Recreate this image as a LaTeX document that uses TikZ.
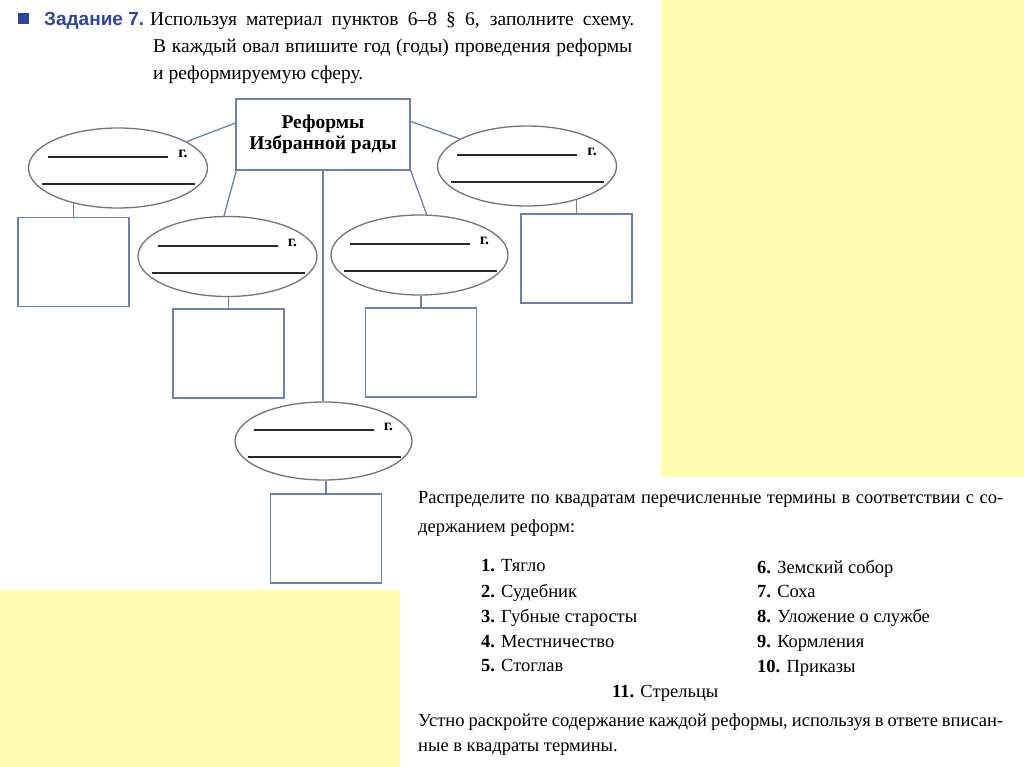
\documentclass[tikz,border=0pt]{standalone}
\usepackage{fontspec}
\setmainfont{Liberation Serif}
\newfontfamily\hsans{Liberation Sans}
\usetikzlibrary{shapes.geometric,calc}
\definecolor{padyellow}{RGB}{255,253,178}
\definecolor{boxline}{RGB}{105,130,175}
\definecolor{ovalline}{RGB}{115,115,125}
\definecolor{taskblue}{RGB}{45,70,160}
\definecolor{inkline}{RGB}{40,40,40}
\tikzset{
  oval/.style={ellipse, draw=ovalline, line width=1.3pt, minimum width=179pt, minimum height=80pt, inner sep=0pt},
  blankbox/.style={rectangle, draw=boxline, line width=1.3pt, minimum width=111pt, minimum height=89pt, inner sep=0pt},
  titlebox/.style={rectangle, draw=boxline, line width=1.3pt, minimum width=174pt, minimum height=71pt, inner sep=0pt, align=center, font=\bfseries\fontsize{19.5}{21}\selectfont},
  link/.style={draw=boxline, line width=1.3pt},
  fillline/.style={draw=inkline, line width=2pt},
  gmark/.style={inner sep=0pt, font=\bfseries\fontsize{16}{18}\selectfont},
  txt/.style={anchor=base west, inner sep=0pt, font=\fontsize{19.5}{22}\selectfont},
  btxt/.style={anchor=base west, inner sep=0pt, font=\fontsize{18.5}{21}\selectfont},
}
\newcommand\ovalblanks[1]{%
  \draw[fillline] ($(#1.center)+(-70,-11)$) -- ($(#1.center)+(50,-11)$);
  \draw[fillline] ($(#1.center)+(-76,16)$) -- ($(#1.center)+(77,16)$);
  \node[gmark] (#1g) at ($(#1.center)+(65,-14)$) {г.};
}
\begin{document}
\begin{tikzpicture}[x=1pt,y=-1pt]
\useasboundingbox (0,0) rectangle (1024,767);
\fill[white] (0,0) rectangle (1024,767);
\fill[padyellow] (661,0) rectangle (1024,477);
\fill[padyellow] (0,590) rectangle (400,767);

% header
\node[fill=taskblue, minimum size=11pt, inner sep=0pt] (bullet) at (23.5,18.5) {};
\node[anchor=base west, inner sep=0pt, font=\hsans\bfseries\fontsize{19}{21}\selectfont, text=taskblue] (task) at (44,26) {Задание 7.};
\node[txt] (h1) at (150,26) {\makebox[484pt][s]{Используя материал пунктов 6–8 § 6, заполните схему.}};
\node[txt] (h2) at (153,53) {\makebox[479pt][s]{В каждый овал впишите год (годы) проведения реформы}};
\node[txt] (h3) at (153,80) {и реформируемую сферу.};

% scheme
\node[titlebox] (top) at (323,134.5) {Реформы\\Избранной рады};
\node[oval] (e1) at (118,168) {};
\node[oval] (e2) at (227.5,256.5) {};
\node[oval, minimum width=177pt] (e3) at (419.5,255) {};
\node[oval] (e5) at (527,166) {};
\node[oval, minimum width=177pt, minimum height=78pt] (e4) at (323.5,441) {};

\node[blankbox] (b1) at (73.5,262) {};
\node[blankbox] (b2) at (228.5,353.5) {};
\node[blankbox] (b3) at (421,352.5) {};
\node[blankbox] (b4) at (576.5,258.5) {};
\node[blankbox] (b5) at (326,538.5) {};

\ovalblanks{e1}
\ovalblanks{e2}
\ovalblanks{e3}
\ovalblanks{e4}
\ovalblanks{e5}

\draw[link] ([yshift=11.5pt]top.west) -- (e1.21);
\draw[link] ([yshift=13pt]top.east) -- (e5.158);
\draw[link] ([xshift=1pt]top.south west) -- (e2.95);
\draw[link] (top.south east) -- (e3.80);
\draw[link] (top.south) -- (top.south |- e4.north);
\draw[link] (b1.north) -- (b1.north |- e1.218);
\draw[link] (b4.north) -- (b4.north |- e5.326);
\draw[link] (b2.north) -- (b2.north |- e2.south);
\draw[link] (b3.north) -- (b3.north |- e3.south);
\draw[link] (b5.north) -- (b5.north |- e4.south);

% lower text
\node[btxt] (p1) at (418,503) {\makebox[585pt][s]{Распределите по квадратам перечисленные термины в соответствии с со-}};
\node[btxt] (p2) at (418,532) {держанием реформ:};
\node[btxt] (t1) at (481,571) {\textbf{1.} Тягло};
\node[btxt] (t2) at (481,597) {\textbf{2.} Судебник};
\node[btxt] (t3) at (481,622) {\textbf{3.} Губные старосты};
\node[btxt] (t4) at (481,647) {\textbf{4.} Местничество};
\node[btxt] (t5) at (481,671) {\textbf{5.} Стоглав};
\node[btxt] (t6) at (757,573) {\textbf{6.} Земский собор};
\node[btxt] (t7) at (757,597) {\textbf{7.} Соха};
\node[btxt] (t8) at (757,622) {\textbf{8.} Уложение о службе};
\node[btxt] (t9) at (757,647) {\textbf{9.} Кормления};
\node[btxt] (t10) at (757,672) {\textbf{10.} Приказы};
\node[btxt] (t11) at (612,697) {\textbf{11.} Стрельцы};
\node[btxt] (p3) at (418,726) {\makebox[585pt][s]{Устно раскройте содержание каждой реформы, используя в ответе вписан-}};
\node[btxt] (p4) at (418,751) {ные в квадраты термины.};
\end{tikzpicture}
\end{document}
